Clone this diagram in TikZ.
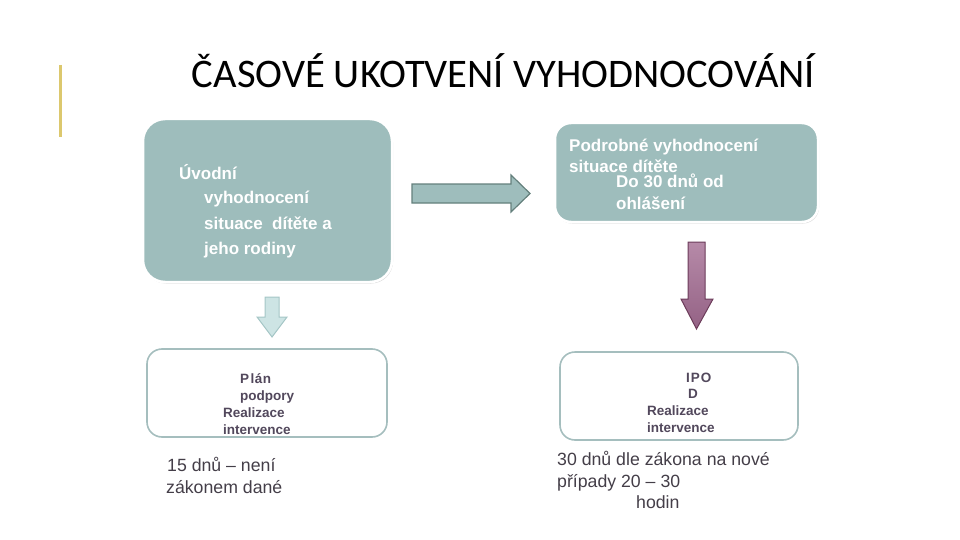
\documentclass[tikz,border=0pt]{standalone}
\usepackage{fontspec}
\setmainfont{Liberation Sans}
\newfontfamily\titlefont{Carlito}
\usetikzlibrary{positioning,shadows}
\definecolor{boxfill} {RGB}{158,189,188}
\definecolor{boxline} {RGB}{165,190,190}
\definecolor{arrline} {RGB}{100,128,124}
\definecolor{paleteal}{RGB}{205,228,228}
\definecolor{paleline}{RGB}{165,198,198}
\definecolor{plumtop} {RGB}{182,138,168}
\definecolor{plumbot} {RGB}{148,98,133}
\definecolor{plumline}{RGB}{108,60,90}
\definecolor{gold}    {RGB}{220,200,110}
\definecolor{inktext} {RGB}{82,72,92}
\definecolor{greytext}{RGB}{68,62,72}

\tikzset{
  bigbox/.style={draw=white,line width=2.5pt,fill=boxfill,anchor=center,
    drop shadow={shadow xshift=1pt,shadow yshift=-1.5pt,opacity=0.3}},
  smallbox/.style={draw=boxline,line width=1.6pt,fill=white,anchor=center,rounded corners=15pt},
  boxtext/.style={font=\fontsize{17}{20}\selectfont\bfseries,text=white},
  steptext/.style={font=\fontsize{13.5}{16}\selectfont\bfseries,text=inktext},
  notetext/.style={font=\fontsize{17.7}{20}\selectfont,text=greytext}
}

\begin{document}
\begin{tikzpicture}[x=1pt,y=-1pt,every node/.style={inner sep=0pt,anchor=base west}]

    \useasboundingbox (0,0) rectangle (960,540);

    % title
    \draw[gold,line width=3pt] (60,65) -- (60,137);
    \node[anchor=base,font=\titlefont\fontsize{40.6}{44}\selectfont] (title) at (503.5,88) {ČASOVÉ UKOTVENÍ VYHODNOCOVÁNÍ};

    % boxes
    \node[bigbox,rounded corners=22pt,minimum width=249,minimum height=163] (uvod) at (267.5,200.5) {};
    \node[bigbox,rounded corners=16pt,minimum width=263,minimum height=99] (podrobne) at (686.5,172.5) {};
    \node[smallbox,minimum width=240,minimum height=88] (plan) at (267,393) {};
    \node[smallbox,minimum width=238,minimum height=88] (ipod) at (679,396) {};

    % arrows
    \draw[fill=boxfill,draw=arrline,line width=1.2pt,line join=miter]
      (412,184) -- (511,184) -- (511,175) -- (530,193.5) -- (511,212) -- (511,203) -- (412,203) -- cycle;
    \draw[fill=paleteal,draw=paleline,line width=1pt]
      (265,297) -- (279,297) -- (279,317) -- (287,317) -- (272,337) -- (257,317) -- (265,317) -- cycle;
    \draw[top color=plumtop,bottom color=plumbot,draw=plumline,line width=1pt]
      (688,242) -- (705,242) -- (705,299) -- (713,299) -- (696.5,329) -- (681,299) -- (688,299) -- cycle;

    % texts
    \foreach \x/\y/\t [count=\i] in {179/179/Úvodní, 204/204/vyhodnocení,
        204/229/situace\ \ dítěte a, 204/254/jeho rodiny}
      \node[boxtext] (uvod-\i) at (\x,\y) {\t};
    \foreach \x/\y/\t [count=\i] in {569/152/Podrobné vyhodnocení, 569/172/situace dítěte,
        616/187/Do 30 dnů od, 616/209/ohlášení}
      \node[boxtext] (podrobne-\i) at (\x,\y) {\t};
    \foreach \x/\y/\t [count=\i] in {240/383/P\kern1.5pt l\kern.5pt á\kern.5pt n, 240/400/podpory,
        223/417/Realizace, 223/434/intervence}
      \node[steptext] (plan-\i) at (\x,\y) {\t};
    \foreach \x/\y/\t [count=\i] in {686/382/I\kern1pt P\kern1pt O, 688/398/D,
        647/415/Realizace, 647/432/intervence}
      \node[steptext] (ipod-\i) at (\x,\y) {\t};
    \foreach \x/\y/\t [count=\i] in {167/471/15 dnů – není, 166/493/zákonem dané}
      \node[notetext] (lhuta-\i) at (\x,\y) {\t};
    \foreach \x/\y/\t [count=\i] in {557/465/30 dnů dle zákona na nové,
        557/487/případy 20 – 30, 636/508/hodin}
      \node[notetext] (zakon-\i) at (\x,\y) {\t};

\end{tikzpicture}
\end{document}
